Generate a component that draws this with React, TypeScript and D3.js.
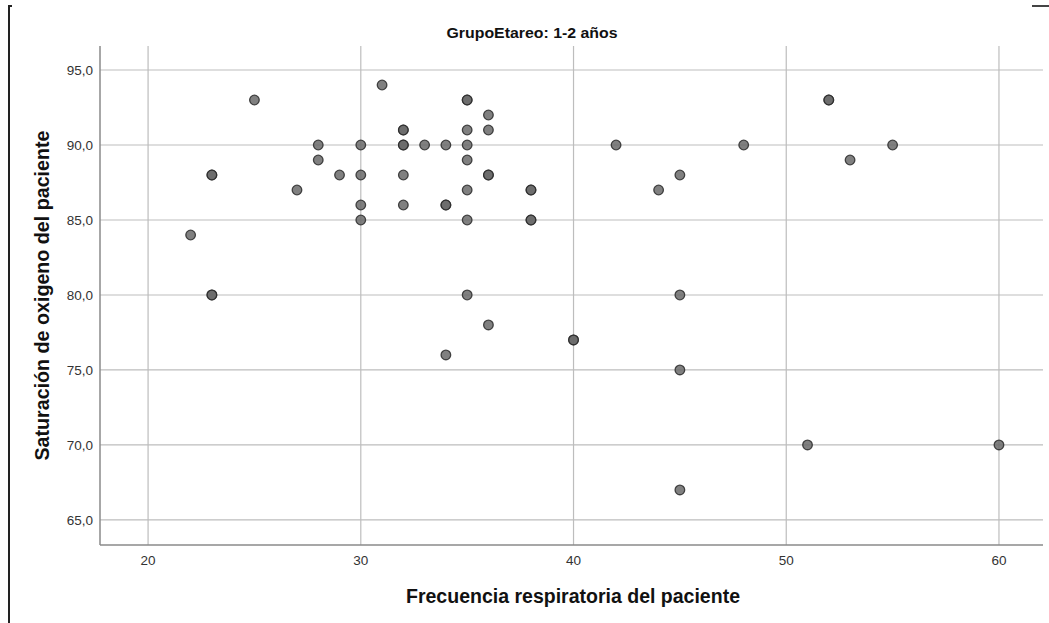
import { useMemo } from "react";
import * as d3 from "d3";

const WIDTH = 1049;
const HEIGHT = 623;

// Frecuencia respiratoria (x) and saturación de oxígeno (y), grupo 1-2 años
const freq = [
  22, 23, 23, 23, 23, 25, 27, 28, 28, 29, 30, 30, 30, 30, 31, 32, 32, 32, 32,
  32, 32, 33, 34, 34, 34, 34, 35, 35, 35, 35, 35, 35, 35, 35, 36, 36, 36, 36,
  36, 38, 38, 38, 38, 40, 40, 42, 44, 45, 45, 45, 45, 48, 51, 52, 52, 53, 55, 60,
];
const sat = [
  84, 88, 88, 80, 80, 93, 87, 90, 89, 88, 90, 88, 86, 85, 94, 91, 91, 90, 90,
  88, 86, 90, 90, 86, 86, 76, 93, 93, 91, 90, 89, 87, 85, 80, 92, 91, 88, 88,
  78, 87, 87, 85, 85, 77, 77, 90, 87, 88, 80, 75, 67, 90, 70, 93, 93, 89, 90, 70,
];

const xTicks = [20, 30, 40, 50, 60];
const yTicks = [65, 70, 75, 80, 85, 90, 95];

const TITLE = "GrupoEtareo: 1-2 años";
const X_LABEL = "Frecuencia respiratoria del paciente";
const Y_LABEL = "Saturación de oxigeno del paciente";

const FONT = "'Liberation Sans', Arial, sans-serif";

const fmtY = (v: number) => d3.format(".1f")(v).replace(".", ",");

export default function App() {
  const left = 100;
  const right = 1043;
  const top = 46;
  const bottom = 545;

  const { x, y, points } = useMemo(() => {
    const x = d3.scaleLinear().domain([17.74, 62.07]).range([left, right]);
    const y = d3.scaleLinear().domain([63.33, 96.6]).range([bottom, top]);
    const points = freq.map((f, i) => ({ f, s: sat[i] }));
    return { x, y, points };
  }, []);

  return (
    <svg
      width={WIDTH}
      height={HEIGHT}
      style={{ position: "absolute", left: 0, top: 0, background: "#fff" }}
    >
      {/* outer frame fragments */}
      <path d="M12,6 H9 V623" fill="none" stroke="#222" strokeWidth={2} />
      <line x1={1032} x2={1049} y1={6} y2={6} stroke="#444" strokeWidth={2} />

      {/* title */}
      <text
        x={532}
        y={38}
        textAnchor="middle"
        fontFamily={FONT}
        fontSize={15.5}
        fontWeight="bold"
        fill="#111"
        textLength={171}
        lengthAdjust="spacingAndGlyphs"
      >
        {TITLE}
      </text>

      {/* gridlines */}
      {yTicks.map((t) => (
        <line
          key={`gy-${t}`}
          x1={left}
          x2={right}
          y1={y(t)}
          y2={y(t)}
          stroke="#bdbdbd"
          strokeWidth={1.2}
        />
      ))}
      {xTicks.map((t) => (
        <line
          key={`gx-${t}`}
          x1={x(t)}
          x2={x(t)}
          y1={top}
          y2={bottom}
          stroke="#bdbdbd"
          strokeWidth={1.2}
        />
      ))}

      {/* axes */}
      <line x1={left} x2={left} y1={top} y2={bottom} stroke="#8a8a8a" strokeWidth={1.5} />
      <line x1={left} x2={right} y1={bottom} y2={bottom} stroke="#8a8a8a" strokeWidth={1.5} />

      {/* tick labels */}
      {yTicks.map((t) => (
        <text
          key={`ly-${t}`}
          x={93}
          y={y(t)}
          dy="0.36em"
          textAnchor="end"
          fontFamily={FONT}
          fontSize={13.5}
          fill="#333"
        >
          {fmtY(t)}
        </text>
      ))}
      {xTicks.map((t) => (
        <text
          key={`lx-${t}`}
          x={x(t)}
          y={565}
          textAnchor="middle"
          fontFamily={FONT}
          fontSize={13.5}
          fill="#333"
        >
          {t}
        </text>
      ))}

      {/* axis titles */}
      <text
        x={573}
        y={603}
        textAnchor="middle"
        fontFamily={FONT}
        fontSize={20}
        fontWeight="bold"
        fill="#111"
        textLength={334}
        lengthAdjust="spacingAndGlyphs"
      >
        {X_LABEL}
      </text>
      <text
        transform={`translate(49,${(top + bottom) / 2}) rotate(-90)`}
        textAnchor="middle"
        fontFamily={FONT}
        fontSize={20}
        fontWeight="bold"
        fill="#111"
        textLength={330}
        lengthAdjust="spacingAndGlyphs"
      >
        {Y_LABEL}
      </text>

      {/* points */}
      {points.map((p, i) => (
        <circle
          key={i}
          cx={x(p.f)}
          cy={y(p.s)}
          r={4.8}
          fill="#6a6a6a"
          fillOpacity={0.85}
          stroke="#2a2a2a"
          strokeWidth={1.3}
          strokeOpacity={0.85}
        />
      ))}
    </svg>
  );
}
